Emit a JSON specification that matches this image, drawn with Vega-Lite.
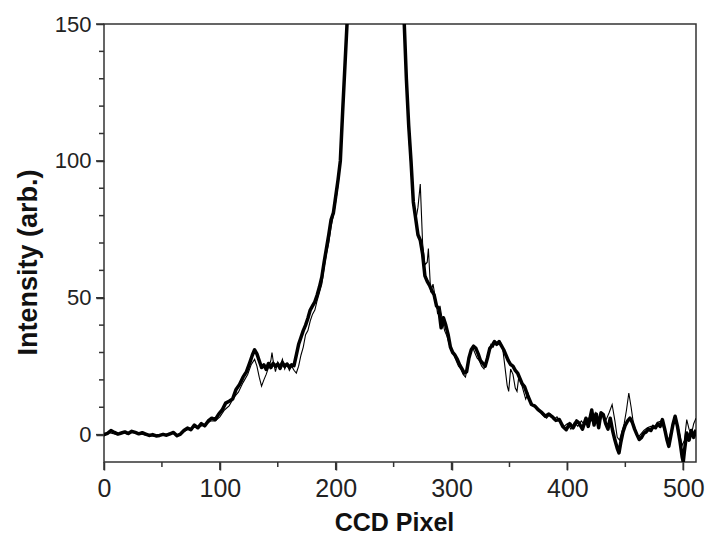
{
  "$schema": "https://vega.github.io/schema/vega-lite/v6.json",
  "autosize": "none",
  "width": 592,
  "height": 438,
  "padding": {"left": 104, "top": 24, "right": 9, "bottom": 73},
  "background": "white",
  "config": {
    "font": "Liberation Sans",
    "view": {"stroke": "#333", "strokeWidth": 1.5},
    "axis": {"grid": false, "labelColor": "#222", "titleColor": "#111"}
  },
  "datasets": {
    "xmajor": [{"v": 0}, {"v": 100}, {"v": 200}, {"v": 300}, {"v": 400}, {"v": 500}],
    "xminor": [{"v": 50}, {"v": 150}, {"v": 250}, {"v": 350}, {"v": 450}],
    "ymajor": [{"v": 0}, {"v": 50}, {"v": 100}, {"v": 150}],
    "yminor": [{"v": 10}, {"v": 20}, {"v": 30}, {"v": 40}, {"v": 60}, {"v": 70}, {"v": 80}, {"v": 90}, {"v": 110}, {"v": 120}, {"v": 130}, {"v": 140}],
    "thick": [
      {"x":0,"y":0.0},{"x":3,"y":0.5},{"x":6,"y":1.5},{"x":9,"y":0.8},{"x":12,"y":0.2},{"x":15,"y":0.6},{"x":18,"y":1.0},{"x":21,"y":0.4},{"x":24,"y":1.2},{"x":27,"y":0.8},{"x":30,"y":0.3},{"x":33,"y":0.7},{"x":36,"y":0.2},{"x":39,"y":-0.3},{"x":42,"y":0.0},{"x":45,"y":-0.5},{"x":48,"y":-0.3},{"x":51,"y":0.1},{"x":54,"y":-0.2},{"x":57,"y":0.3},{"x":60,"y":0.8},{"x":63,"y":-0.4},{"x":66,"y":0.2},{"x":69,"y":1.5},{"x":72,"y":2.4},{"x":75,"y":1.8},{"x":78,"y":3.5},{"x":81,"y":2.5},{"x":84,"y":4.0},{"x":87,"y":3.2},{"x":90,"y":5.0},{"x":93,"y":6.0},{"x":96,"y":5.5},{"x":99,"y":7.5},{"x":102,"y":9.0},{"x":105,"y":11.5},{"x":108,"y":12.2},{"x":111,"y":13.0},{"x":114,"y":16.5},{"x":117,"y":18.3},{"x":120,"y":21.0},{"x":123,"y":23.0},{"x":126,"y":26.5},{"x":128,"y":29.0},{"x":130,"y":31.0},{"x":132,"y":29.5},{"x":134,"y":27.0},{"x":136,"y":24.5},{"x":138,"y":25.5},{"x":140,"y":23.8},{"x":142,"y":26.0},{"x":144,"y":24.5},{"x":146,"y":26.0},{"x":148,"y":25.0},{"x":150,"y":25.8},{"x":152,"y":24.2},{"x":154,"y":26.3},{"x":156,"y":25.0},{"x":158,"y":25.8},{"x":160,"y":24.6},{"x":162,"y":25.5},{"x":164,"y":25.2},{"x":166,"y":29.0},{"x":168,"y":33.0},{"x":170,"y":35.5},{"x":172,"y":38.0},{"x":174,"y":40.0},{"x":176,"y":42.5},{"x":178,"y":45.5},{"x":180,"y":47.0},{"x":182,"y":48.5},{"x":184,"y":51.0},{"x":186,"y":54.0},{"x":188,"y":57.5},{"x":190,"y":63.0},{"x":192,"y":68.0},{"x":194,"y":73.0},{"x":196,"y":78.5},{"x":198,"y":81.0},{"x":200,"y":87.0},{"x":202,"y":93.0},{"x":204,"y":100.0},{"x":206,"y":118.0},{"x":208,"y":135.0},{"x":210,"y":152.0},{"x":214,"y":200},{"x":220,"y":320},{"x":235,"y":600},{"x":250,"y":330},{"x":256,"y":200},{"x":259,"y":152},{"x":261,"y":130},{"x":263,"y":113},{"x":265,"y":100},{"x":267,"y":85},{"x":269,"y":79},{"x":271,"y":73},{"x":273,"y":71},{"x":275,"y":66},{"x":277,"y":58},{"x":279,"y":56},{"x":281,"y":54.5},{"x":283,"y":52.5},{"x":285,"y":51},{"x":287,"y":47},{"x":289,"y":46},{"x":291,"y":39},{"x":293,"y":42.7},{"x":295,"y":40},{"x":297,"y":36.6},{"x":299,"y":32},{"x":301,"y":30},{"x":303,"y":29},{"x":305,"y":27.5},{"x":307,"y":25.5},{"x":309,"y":24},{"x":311,"y":22.5},{"x":313,"y":23},{"x":315,"y":28},{"x":317,"y":31},{"x":319,"y":32.3},{"x":321,"y":31.5},{"x":323,"y":29.5},{"x":325,"y":27},{"x":327,"y":26},{"x":329,"y":25},{"x":331,"y":28},{"x":333,"y":31.5},{"x":335,"y":32.5},{"x":337,"y":34},{"x":339,"y":33},{"x":341,"y":34},{"x":343,"y":32.5},{"x":345,"y":31},{"x":347,"y":29},{"x":349,"y":27},{"x":351,"y":25.6},{"x":353,"y":25},{"x":355,"y":23.5},{"x":357,"y":22.5},{"x":359,"y":20.5},{"x":361,"y":18.5},{"x":363,"y":17.5},{"x":366,"y":14},{"x":369,"y":11},{"x":372,"y":10.4},{"x":375,"y":9},{"x":378,"y":8},{"x":381,"y":6.7},{"x":384,"y":7.5},{"x":387,"y":6.5},{"x":390,"y":5.2},{"x":393,"y":5.5},{"x":396,"y":3.0},{"x":399,"y":1.8},{"x":402,"y":4.0},{"x":405,"y":2.5},{"x":408,"y":5.0},{"x":410,"y":4.2},{"x":413,"y":2.0},{"x":416,"y":6.0},{"x":418,"y":3.0},{"x":421,"y":9.0},{"x":423,"y":3.5},{"x":425,"y":7.5},{"x":427,"y":2.5},{"x":429,"y":8.0},{"x":431,"y":7.3},{"x":433,"y":4.0},{"x":435,"y":2.0},{"x":437,"y":6.0},{"x":439,"y":1.5},{"x":441,"y":-2.0},{"x":443,"y":-5.0},{"x":444.5,"y":-6.7},{"x":446,"y":-3.0},{"x":448,"y":1.0},{"x":450,"y":3.5},{"x":452,"y":5.0},{"x":454,"y":6.0},{"x":456,"y":4.5},{"x":458,"y":2.0},{"x":460,"y":0.0},{"x":462,"y":-1.8},{"x":464,"y":-1.0},{"x":466,"y":0.5},{"x":468,"y":1.0},{"x":470,"y":2.0},{"x":472,"y":1.5},{"x":474,"y":3.0},{"x":476,"y":2.5},{"x":478,"y":4.0},{"x":480,"y":3.0},{"x":482,"y":5.5},{"x":484,"y":2.0},{"x":486,"y":-2.0},{"x":487.5,"y":-4.3},{"x":489,"y":-1.0},{"x":491,"y":3.5},{"x":493,"y":6.7},{"x":495,"y":3.0},{"x":497,"y":-2.0},{"x":499,"y":-8.0},{"x":500,"y":-10.0},{"x":501,"y":-6.0},{"x":503,"y":0.6},{"x":505,"y":-2.0},{"x":507,"y":1.5},{"x":509,"y":-1.0},{"x":511,"y":1.8}
    ],
    "thin": [
      {"x":0,"y":-0.5},{"x":4,"y":0.8},{"x":8,"y":0.3},{"x":12,"y":0.0},{"x":16,"y":0.9},{"x":20,"y":0.2},{"x":24,"y":0.8},{"x":28,"y":0.5},{"x":32,"y":0.2},{"x":36,"y":-0.2},{"x":40,"y":-0.4},{"x":44,"y":-0.7},{"x":48,"y":0.0},{"x":52,"y":-0.3},{"x":56,"y":0.5},{"x":60,"y":0.3},{"x":64,"y":0.0},{"x":68,"y":1.0},{"x":72,"y":1.8},{"x":76,"y":2.5},{"x":80,"y":2.8},{"x":84,"y":3.2},{"x":88,"y":3.8},{"x":92,"y":5.0},{"x":96,"y":5.0},{"x":100,"y":6.5},{"x":104,"y":9.0},{"x":108,"y":10.5},{"x":112,"y":13.5},{"x":116,"y":15.5},{"x":120,"y":19.0},{"x":124,"y":22.0},{"x":127,"y":25.5},{"x":130,"y":27.5},{"x":132,"y":25.0},{"x":134,"y":21.0},{"x":136,"y":17.7},{"x":138,"y":20.0},{"x":140,"y":22.0},{"x":142,"y":24.5},{"x":144,"y":27.0},{"x":145,"y":30.0},{"x":146,"y":27.0},{"x":148,"y":23.0},{"x":150,"y":26.5},{"x":152,"y":25.0},{"x":154,"y":27.5},{"x":156,"y":24.0},{"x":158,"y":26.0},{"x":160,"y":23.5},{"x":162,"y":25.0},{"x":164,"y":23.5},{"x":166,"y":22.5},{"x":168,"y":25.0},{"x":170,"y":29.0},{"x":172,"y":32.0},{"x":174,"y":36.5},{"x":176,"y":38.0},{"x":178,"y":41.5},{"x":180,"y":44.0},{"x":182,"y":45.5},{"x":184,"y":49.0},{"x":186,"y":52.0},{"x":188,"y":55.0},{"x":190,"y":61.0},{"x":192,"y":66.0},{"x":194,"y":70.0},{"x":196,"y":76.0},{"x":198,"y":80.0},{"x":200,"y":85.0},{"x":202,"y":91.0},{"x":204,"y":100},{"x":206,"y":115},{"x":208,"y":133},{"x":210,"y":150},{"x":214,"y":200},{"x":220,"y":320},{"x":235,"y":600},{"x":250,"y":330},{"x":256,"y":200},{"x":259,"y":152},{"x":261,"y":128},{"x":263,"y":110},{"x":265,"y":97},{"x":267,"y":84},{"x":269,"y":78},{"x":271,"y":83},{"x":273,"y":91.5},{"x":275,"y":70},{"x":277,"y":62},{"x":279,"y":63},{"x":280,"y":68},{"x":282,"y":52},{"x":284,"y":55},{"x":286,"y":50},{"x":288,"y":44},{"x":290,"y":47},{"x":292,"y":42},{"x":294,"y":38},{"x":296,"y":36},{"x":298,"y":33},{"x":300,"y":31},{"x":302,"y":29},{"x":304,"y":27},{"x":306,"y":25},{"x":308,"y":24},{"x":310,"y":22},{"x":312,"y":21},{"x":314,"y":25},{"x":316,"y":30},{"x":318,"y":32},{"x":320,"y":30},{"x":322,"y":28},{"x":324,"y":27},{"x":326,"y":25},{"x":328,"y":24},{"x":330,"y":27},{"x":332,"y":30},{"x":334,"y":33},{"x":336,"y":32},{"x":338,"y":34},{"x":340,"y":33},{"x":342,"y":34},{"x":344,"y":32},{"x":346,"y":25},{"x":348,"y":18},{"x":349.3,"y":15.8},{"x":351,"y":24},{"x":353,"y":22},{"x":355,"y":17},{"x":356.5,"y":15.8},{"x":358,"y":21},{"x":360,"y":19},{"x":362,"y":16},{"x":364,"y":13},{"x":366,"y":15},{"x":368,"y":12},{"x":370,"y":11},{"x":373,"y":9.5},{"x":376,"y":8.5},{"x":379,"y":7.0},{"x":382,"y":6.0},{"x":385,"y":7.5},{"x":388,"y":5.5},{"x":391,"y":6.5},{"x":394,"y":4.5},{"x":397,"y":3.0},{"x":400,"y":4.0},{"x":403,"y":2.0},{"x":406,"y":4.5},{"x":409,"y":3.0},{"x":412,"y":5.0},{"x":415,"y":3.5},{"x":418,"y":6.0},{"x":421,"y":5.0},{"x":424,"y":8.0},{"x":427,"y":4.0},{"x":430,"y":7.0},{"x":433,"y":5.0},{"x":436,"y":8.0},{"x":438.6,"y":11.0},{"x":441,"y":5.0},{"x":443,"y":-1.0},{"x":445,"y":-2.0},{"x":447,"y":1.0},{"x":449,"y":4.0},{"x":451,"y":9.0},{"x":453,"y":15.2},{"x":455,"y":10.0},{"x":457,"y":4.0},{"x":459,"y":1.0},{"x":461,"y":-1.0},{"x":463,"y":0.0},{"x":466,"y":1.5},{"x":469,"y":2.5},{"x":472,"y":3.0},{"x":475,"y":2.5},{"x":478,"y":4.5},{"x":481,"y":5.0},{"x":484,"y":1.0},{"x":487,"y":-2.5},{"x":490,"y":2.0},{"x":493,"y":5.5},{"x":496,"y":2.0},{"x":499,"y":-4.0},{"x":501,"y":-2.0},{"x":503,"y":5.5},{"x":505,"y":2.0},{"x":507,"y":0.0},{"x":509,"y":4.0},{"x":511,"y":6.0}
    ]
  },
  "layer": [
    {
      "data": {"name": "thick"},
      "mark": {"type": "line", "color": "#000", "strokeWidth": 3.5, "clip": true, "strokeJoin": "round"},
      "encoding": {
        "x": {
          "field": "x", "type": "quantitative",
          "scale": {"domain": [0, 511], "nice": false, "zero": false},
          "axis": {
            "title": "CCD Pixel",
            "orient": "bottom",
            "domain": false,
            "values": [0, 100, 200, 300, 400, 500],
            "tickSize": 8,
            "tickColor": "#333",
            "tickWidth": 1.5,
            "labelFontSize": 25,
            "labelPadding": 6,
            "labelFlush": false,
            "labelOverlap": false,
            "titleFontSize": 25,
            "titleX": 290,
            "titleY": 68,
            "titleBaseline": "alphabetic"
          }
        },
        "y": {
          "field": "y", "type": "quantitative",
          "scale": {"domain": [-10, 150], "nice": false, "zero": false},
          "axis": {
            "title": "Intensity (arb.)",
            "orient": "left",
            "domain": false,
            "values": [0, 50, 100, 150],
            "tickSize": 8,
            "tickColor": "#333",
            "tickWidth": 1.5,
            "labelFontSize": 22,
            "labelPadding": 5,
            "labelFlush": false,
            "labelOverlap": false,
            "titleFontSize": 27,
            "titleX": -68,
            "titleY": 238,
            "titleBaseline": "alphabetic"
          }
        }
      }
    },
    {
      "data": {"name": "thin"},
      "mark": {"type": "line", "color": "#000", "strokeWidth": 1.1, "clip": true},
      "encoding": {
        "x": {"field": "x", "type": "quantitative", "scale": {"domain": [0, 511], "nice": false, "zero": false}, "axis": null},
        "y": {"field": "y", "type": "quantitative", "scale": {"domain": [-10, 150], "nice": false, "zero": false}, "axis": null}
      }
    },
    {
      "data": {"name": "xmajor"},
      "mark": {"type": "rule", "color": "#333", "strokeWidth": 1.5},
      "encoding": {
        "x": {"field": "v", "type": "quantitative", "scale": {"domain": [0, 511], "nice": false, "zero": false}, "axis": null},
        "y": {"datum": -10, "type": "quantitative", "scale": {"domain": [-10, 150], "nice": false, "zero": false}, "axis": null},
        "y2": {"datum": -12.92}
      }
    },
    {
      "data": {"name": "xminor"},
      "mark": {"type": "rule", "color": "#333", "strokeWidth": 1.5},
      "encoding": {
        "x": {"field": "v", "type": "quantitative", "scale": {"domain": [0, 511], "nice": false, "zero": false}, "axis": null},
        "y": {"datum": -10, "type": "quantitative", "scale": {"domain": [-10, 150], "nice": false, "zero": false}, "axis": null},
        "y2": {"datum": -11.83}
      }
    },
    {
      "data": {"name": "ymajor"},
      "mark": {"type": "rule", "color": "#333", "strokeWidth": 1.5},
      "encoding": {
        "y": {"field": "v", "type": "quantitative", "scale": {"domain": [-10, 150], "nice": false, "zero": false}, "axis": null},
        "x": {"datum": 0, "type": "quantitative", "scale": {"domain": [0, 511], "nice": false, "zero": false}, "axis": null},
        "x2": {"datum": -6.9}
      }
    },
    {
      "data": {"name": "yminor"},
      "mark": {"type": "rule", "color": "#333", "strokeWidth": 1.5},
      "encoding": {
        "y": {"field": "v", "type": "quantitative", "scale": {"domain": [-10, 150], "nice": false, "zero": false}, "axis": null},
        "x": {"datum": 0, "type": "quantitative", "scale": {"domain": [0, 511], "nice": false, "zero": false}, "axis": null},
        "x2": {"datum": -4.32}
      }
    }
  ],
  "resolve": {"axis": {"x": "independent", "y": "independent"}}
}
